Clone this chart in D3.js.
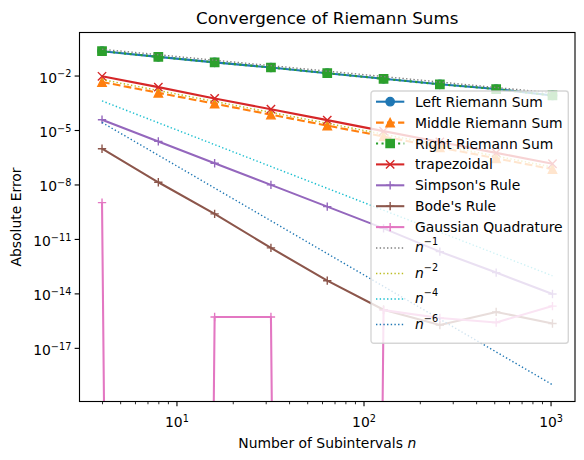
<!DOCTYPE html>
<html>
<head>
<meta charset="utf-8">
<script src="https://cdn.jsdelivr.net/npm/d3@7"></script>
<style>
  html, body { margin: 0; padding: 0; background: #fff; }
  svg { display: block; font-family: "DejaVu Sans", sans-serif; }
</style>
</head>
<body>
<svg id="chart" width="584" height="460"></svg>
<script>
// values (0 = exact, drops off the log axis)
const subintervals = [4, 8, 16, 32, 64, 128, 256, 512, 1024];
const leftRiemann = [0.22, 0.107, 0.053, 0.0277, 0.0135, 0.0066, 0.0033, 0.0018, 0.0008];
const middleRiemann = [4.4e-3, 1.12e-3, 2.8e-4, 7.0e-5, 1.75e-5, 4.4e-6, 1.1e-6, 2.75e-7, 6.9e-8];
const rightRiemann = [0.22, 0.107, 0.053, 0.0277, 0.0135, 0.0066, 0.0033, 0.0018, 0.0008];
const trapezoidal = [9.1e-3, 2.3e-3, 5.5e-4, 1.4e-4, 3.5e-5, 8.7e-6, 2.2e-6, 5.5e-7, 1.38e-7];
const simpsons = [3.7e-5, 2.35e-6, 1.48e-7, 9.5e-9, 6.0e-10, 3.8e-11, 2.0e-12, 1.4e-13, 9.3e-15];
const bodes = [9.3e-7, 1.32e-8, 2.4e-10, 3.2e-12, 5.0e-14, 1.26e-15, 1.8e-16, 9.5e-16, 2.2e-16];
const gaussian = [1.0e-9, 0, 5.0e-16, 5.0e-16, 0, 1.2e-15, 4.4e-16, 2.5e-16, 2.0e-15];

// reference slopes, end points only
const refN = [4, 1024];
const refOrder1 = [0.28, 1.1e-3];
const refOrder2 = [6.0e-3, 9.1e-8];
const refOrder4 = [4.0e-4, 9.3e-14];
const refOrder6 = [2.6e-5, 9.3e-20];

const xTickValues = [10, 100, 1000];
const yTickValues = [1e-17, 1e-14, 1e-11, 1e-8, 1e-5, 1e-2];

const pt = 100 / 72;

const series = [
  { label: 'Left Riemann Sum', n: subintervals, values: leftRiemann, color: '#1f77b4', dash: null, marker: 'o', lw: 1.5 },
  { label: 'Middle Riemann Sum', n: subintervals, values: middleRiemann, color: '#ff7f0e', dash: [3.7, 1.6], marker: '^', lw: 1.5 },
  { label: 'Right Riemann Sum', n: subintervals, values: rightRiemann, color: '#2ca02c', dash: [1, 1.65], marker: 's', lw: 1.5 },
  { label: 'trapezoidal', n: subintervals, values: trapezoidal, color: '#d62728', dash: null, marker: 'x', lw: 1.5 },
  { label: "Simpson's Rule", n: subintervals, values: simpsons, color: '#9467bd', dash: null, marker: '+', lw: 1.5 },
  { label: "Bode's Rule", n: subintervals, values: bodes, color: '#8c564b', dash: null, marker: '+', lw: 1.5 },
  { label: 'Gaussian Quadrature', n: subintervals, values: gaussian, color: '#e377c2', dash: null, marker: '+', lw: 1.5 },
  { label: 'n', sup: '\u22121', n: refN, values: refOrder1, color: '#7f7f7f', dash: [1, 1.65], marker: null, lw: 1 },
  { label: 'n', sup: '\u22122', n: refN, values: refOrder2, color: '#bcbd22', dash: [1, 1.65], marker: null, lw: 1 },
  { label: 'n', sup: '\u22124', n: refN, values: refOrder4, color: '#17becf', dash: [1, 1.65], marker: null, lw: 1 },
  { label: 'n', sup: '\u22126', n: refN, values: refOrder6, color: '#1f77b4', dash: [1, 1.65], marker: null, lw: 1 }
];

const padding = { top: 32.5, left: 79.5, right: 9, bottom: 58.5 };
const width = 584;
const height = 460;
const canvasWidth = width - padding.left - padding.right;
const canvasHeight = height - padding.top - padding.bottom;
const fontSize = 13.9;
const supSize = 9.7;
const markerHalf = 3 * pt;
const markerEdge = 1 * pt;

const strokeWidth = s => s.lw * pt;
const dashArray = s => s.dash ? s.dash.map(d => d * s.lw * pt).join(',') : null;

function padLog(extent) {
  const lo = Math.log10(extent[0]);
  const hi = Math.log10(extent[1]);
  const m = (hi - lo) * 0.05;
  return [Math.pow(10, lo - m), Math.pow(10, hi + m)];
}

const allPositive = series.flatMap(s => s.values).filter(v => v > 0);
const xScale = d3.scaleLog().domain(padLog(d3.extent(subintervals))).range([0, canvasWidth]);
const yScale = d3.scaleLog().domain(padLog(d3.extent(allPositive))).range([canvasHeight, 0]);
const yPos = v => yScale(v > 0 ? v : Number.MIN_VALUE);

const svg = d3.select('#chart');
const canvas = svg.append('g').attr('transform', `translate(${padding.left},${padding.top})`);

svg.append('defs').append('clipPath').attr('id', 'plotClip')
  .append('rect').attr('width', canvasWidth).attr('height', canvasHeight);

function markerPath(type) {
  const s = markerHalf;
  if (type === '^') return `M0,${-s}L${-s},${s}L${s},${s}Z`;
  if (type === 's') return `M${-s},${-s}H${s}V${s}H${-s}Z`;
  if (type === 'x') return `M${-s},${-s}L${s},${s}M${-s},${s}L${s},${-s}`;
  if (type === '+') return `M${-s},0H${s}M0,${-s}V${s}`;
  return null;
}

function drawMarker(g, type, color, x, y) {
  if (!type) return;
  if (type === 'o') {
    g.append('circle').attr('cx', x).attr('cy', y).attr('r', markerHalf)
      .attr('fill', color).attr('stroke', color).attr('stroke-width', markerEdge);
  } else {
    g.append('path').attr('d', markerPath(type))
      .attr('transform', `translate(${x},${y})`)
      .attr('fill', color).attr('stroke', color).attr('stroke-width', markerEdge);
  }
}

// minor x ticks
const minorTicks = [];
[1, 10, 100, 1000].forEach(dec => {
  for (let k = 2; k <= 9; k++) {
    const v = dec * k;
    if (v >= xScale.domain()[0] && v <= xScale.domain()[1]) minorTicks.push(v);
  }
});

const xMinorAxis = d3.axisBottom(xScale).tickValues(minorTicks).tickSize(2 * pt).tickFormat('');
const xAxis = d3.axisBottom(xScale).tickValues(xTickValues).tickSize(3.5 * pt).tickPadding(3.5 * pt);
const yAxis = d3.axisLeft(yScale).tickValues(yTickValues).tickSize(3.5 * pt).tickPadding(3.5 * pt);

const xMinorDOM = canvas.append('g').attr('transform', `translate(0,${canvasHeight})`).call(xMinorAxis);
xMinorDOM.select('.domain').remove();
xMinorDOM.selectAll('.tick line').attr('stroke-width', 0.6 * pt);

const xAxisDOM = canvas.append('g').attr('transform', `translate(0,${canvasHeight})`).call(xAxis);
xAxisDOM.select('.domain').remove();
xAxisDOM.selectAll('.tick line').attr('stroke-width', 0.8 * pt);
xAxisDOM.selectAll('.tick text').each(function(d) {
  const t = d3.select(this).text('').attr('y', 25.5).attr('dy', null)
    .attr('font-size', fontSize).attr('font-family', 'DejaVu Sans');
  t.append('tspan').text('10');
  t.append('tspan').attr('dy', -5.2).attr('font-size', supSize).text(Math.round(Math.log10(d)));
});

const yAxisDOM = canvas.append('g').call(yAxis);
yAxisDOM.select('.domain').remove();
yAxisDOM.selectAll('.tick line').attr('stroke-width', 0.8 * pt);
yAxisDOM.selectAll('.tick text').each(function(d) {
  const t = d3.select(this).text('').attr('x', -8.2).attr('dy', 6.5)
    .attr('font-size', fontSize).attr('font-family', 'DejaVu Sans');
  t.append('tspan').text('10');
  t.append('tspan').attr('dy', -5.2).attr('font-size', supSize)
    .text('\u2212' + Math.abs(Math.round(Math.log10(d))));
});

// series
const plot = canvas.append('g').attr('clip-path', 'url(#plotClip)');
const line = d3.line().x(d => xScale(d[0])).y(d => yPos(d[1]));

series.forEach(s => {
  const pts = s.n.map((n, i) => [n, s.values[i]]);
  plot.append('path')
    .attr('d', line(pts))
    .attr('fill', 'none')
    .attr('stroke', s.color)
    .attr('stroke-width', strokeWidth(s))
    .attr('stroke-dasharray', dashArray(s))
    .attr('stroke-linejoin', 'round');
  const mg = plot.append('g');
  pts.filter(p => p[1] > 0).forEach(p => drawMarker(mg, s.marker, s.color, xScale(p[0]), yScale(p[1])));
});

// frame
canvas.append('rect')
  .attr('width', canvasWidth).attr('height', canvasHeight)
  .attr('fill', 'none').attr('stroke', '#000').attr('stroke-width', 0.8 * pt);

// legend
const legend = canvas.append('g')
  .attr('transform', `translate(${371 - padding.left},${91 - padding.top})`);
legend.append('rect')
  .attr('width', 197.3).attr('height', 252.3).attr('rx', 2.8)
  .attr('fill', '#fff').attr('fill-opacity', 0.8)
  .attr('stroke', '#cccccc').attr('stroke-opacity', 0.8).attr('stroke-width', pt);

let rowY = 10.7;
series.forEach(s => {
  const row = legend.append('g').attr('transform', `translate(0,${rowY})`);
  row.append('line')
    .attr('x1', 5).attr('x2', 33.3).attr('y1', 0).attr('y2', 0)
    .attr('stroke', s.color).attr('stroke-width', strokeWidth(s))
    .attr('stroke-dasharray', dashArray(s));
  drawMarker(row, s.marker, s.color, 19.15, 0);
  const t = row.append('text').attr('x', 44).attr('font-size', fontSize).attr('fill', '#000');
  if (s.sup) {
    t.attr('y', 4);
    t.append('tspan').attr('font-style', 'italic').text(s.label);
    t.append('tspan').attr('dy', -7).attr('font-size', supSize).text(s.sup);
    rowY += 25.5;
  } else {
    t.attr('y', 5).text(s.label);
    rowY += 20.9;
  }
});

// titles
svg.append('text')
  .attr('x', padding.left + canvasWidth / 2).attr('y', 24)
  .attr('text-anchor', 'middle').attr('font-size', 16.7)
  .text('Convergence of Riemann Sums');

const xLabel = svg.append('text')
  .attr('x', padding.left + canvasWidth / 2).attr('y', 448)
  .attr('text-anchor', 'middle').attr('font-size', fontSize);
xLabel.append('tspan').text('Number of Subintervals ');
xLabel.append('tspan').attr('font-style', 'italic').text('n');

svg.append('text')
  .attr('transform', `translate(20.7,${padding.top + canvasHeight / 2}) rotate(-90)`)
  .attr('text-anchor', 'middle').attr('font-size', fontSize)
  .text('Absolute Error');
</script>
</body>
</html>
